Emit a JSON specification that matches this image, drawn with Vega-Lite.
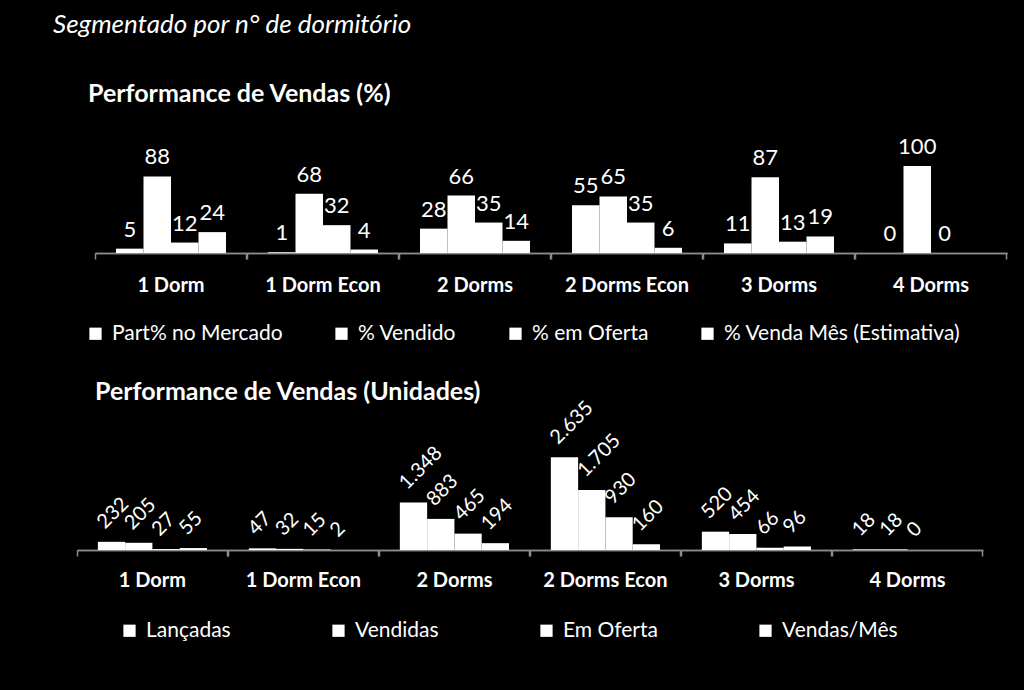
{
  "$schema": "https://vega.github.io/schema/vega-lite/v6.json",
  "background": "black",
  "autosize": {"type": "pad"},
  "padding": {"left": 53, "top": 12, "right": 17, "bottom": 50},
  "title": {"text": "Segmentado por n° de dormitório", "anchor": "start", "dx": -24, "dy": -40, "font": "Lato", "fontStyle": "italic", "fontWeight": "normal", "fontSize": 26, "color": "white", "frame": "group"},
  "bounds": "flush",
  "spacing": 278,
  "resolve": {"scale": {"color": "independent"}, "legend": {"color": "independent"}},
  "config": {
    "view": {"stroke": null},
    "locale": {"number": {"decimal": ",", "thousands": ".", "grouping": [3], "currency": ["R$ ", ""]}},
    "axisX": {"domainColor": "#8c8c8c", "domainWidth": 1.5, "tickColor": "#8c8c8c", "tickWidth": 1.5, "tickSize": 6, "labels": false, "title": null, "grid": false, "orient": "bottom"},
    "header": {"title": null, "labelOrient": "bottom", "labelFont": "Lato", "labelFontWeight": "bold", "labelFontSize": 20, "labelColor": "white"},
    "legend": {"orient": "none", "direction": "horizontal", "title": null, "symbolType": "square", "symbolSize": 150, "symbolStrokeWidth": 0, "labelFont": "Lato", "labelFontSize": 21, "labelColor": "white", "labelOffset": 6, "labelLimit": 400},
    "title": {"color": "white", "anchor": "start"}
  },
  "datasets": {
    "pct": [
      {"cat": "1 Dorm", "serie": "Part% no Mercado", "v": 5},
      {"cat": "1 Dorm", "serie": "% Vendido", "v": 88},
      {"cat": "1 Dorm", "serie": "% em Oferta", "v": 12},
      {"cat": "1 Dorm", "serie": "% Venda Mês (Estimativa)", "v": 24},
      {"cat": "1 Dorm Econ", "serie": "Part% no Mercado", "v": 1},
      {"cat": "1 Dorm Econ", "serie": "% Vendido", "v": 68},
      {"cat": "1 Dorm Econ", "serie": "% em Oferta", "v": 32},
      {"cat": "1 Dorm Econ", "serie": "% Venda Mês (Estimativa)", "v": 4},
      {"cat": "2 Dorms", "serie": "Part% no Mercado", "v": 28},
      {"cat": "2 Dorms", "serie": "% Vendido", "v": 66},
      {"cat": "2 Dorms", "serie": "% em Oferta", "v": 35},
      {"cat": "2 Dorms", "serie": "% Venda Mês (Estimativa)", "v": 14},
      {"cat": "2 Dorms Econ", "serie": "Part% no Mercado", "v": 55},
      {"cat": "2 Dorms Econ", "serie": "% Vendido", "v": 65},
      {"cat": "2 Dorms Econ", "serie": "% em Oferta", "v": 35},
      {"cat": "2 Dorms Econ", "serie": "% Venda Mês (Estimativa)", "v": 6},
      {"cat": "3 Dorms", "serie": "Part% no Mercado", "v": 11},
      {"cat": "3 Dorms", "serie": "% Vendido", "v": 87},
      {"cat": "3 Dorms", "serie": "% em Oferta", "v": 13},
      {"cat": "3 Dorms", "serie": "% Venda Mês (Estimativa)", "v": 19},
      {"cat": "4 Dorms", "serie": "Part% no Mercado", "v": 0},
      {"cat": "4 Dorms", "serie": "% Vendido", "v": 100},
      {"cat": "4 Dorms", "serie": "% em Oferta", "v": 0}
    ],
    "uni": [
      {"cat": "1 Dorm", "serie": "Lançadas", "v": 232},
      {"cat": "1 Dorm", "serie": "Vendidas", "v": 205},
      {"cat": "1 Dorm", "serie": "Em Oferta", "v": 27},
      {"cat": "1 Dorm", "serie": "Vendas/Mês", "v": 55},
      {"cat": "1 Dorm Econ", "serie": "Lançadas", "v": 47},
      {"cat": "1 Dorm Econ", "serie": "Vendidas", "v": 32},
      {"cat": "1 Dorm Econ", "serie": "Em Oferta", "v": 15},
      {"cat": "1 Dorm Econ", "serie": "Vendas/Mês", "v": 2},
      {"cat": "2 Dorms", "serie": "Lançadas", "v": 1348},
      {"cat": "2 Dorms", "serie": "Vendidas", "v": 883},
      {"cat": "2 Dorms", "serie": "Em Oferta", "v": 465},
      {"cat": "2 Dorms", "serie": "Vendas/Mês", "v": 194},
      {"cat": "2 Dorms Econ", "serie": "Lançadas", "v": 2635},
      {"cat": "2 Dorms Econ", "serie": "Vendidas", "v": 1705},
      {"cat": "2 Dorms Econ", "serie": "Em Oferta", "v": 930},
      {"cat": "2 Dorms Econ", "serie": "Vendas/Mês", "v": 160},
      {"cat": "3 Dorms", "serie": "Lançadas", "v": 520},
      {"cat": "3 Dorms", "serie": "Vendidas", "v": 454},
      {"cat": "3 Dorms", "serie": "Em Oferta", "v": 66},
      {"cat": "3 Dorms", "serie": "Vendas/Mês", "v": 96},
      {"cat": "4 Dorms", "serie": "Lançadas", "v": 18},
      {"cat": "4 Dorms", "serie": "Vendidas", "v": 18},
      {"cat": "4 Dorms", "serie": "Em Oferta", "v": 0}
    ]
  },
  "vconcat": [
    {
      "title": {"text": "Performance de Vendas (%)", "anchor": "start", "dx": 11, "dy": -25, "font": "Lato", "fontWeight": "bold", "fontSize": 25, "color": "white", "frame": "group"},
      "spacing": 0,
      "bounds": "flush",
      "hconcat": [
        {
          "width": 18,
          "height": 87,
          "data": {"values": [{"a": 0}]},
          "mark": {"type": "point", "opacity": 0},
          "encoding": {}
        },
        {
          "data": {"name": "pct"},
          "spacing": 0,
          "bounds": "flush",
          "facet": {"column": {"field": "cat", "type": "nominal", "sort": ["1 Dorm", "1 Dorm Econ", "2 Dorms", "2 Dorms Econ", "3 Dorms", "4 Dorms"], "header": {"labelPadding": 16}}},
          "spec": {
            "width": 152,
            "height": 87,
            "layer": [
              {
                "mark": {"type": "bar"},
                "encoding": {
                  "x": {"field": "serie", "type": "nominal", "sort": ["Part% no Mercado", "% Vendido", "% em Oferta", "% Venda Mês (Estimativa)"], "scale": {"paddingInner": 0, "paddingOuter": 0.764}, "axis": {"orient": "bottom", "values": ["Part% no Mercado"], "bandPosition": -0.764}},
                  "y": {"field": "v", "type": "quantitative", "scale": {"domain": [0, 100], "nice": false, "zero": true}, "axis": null},
                  "color": {"field": "serie", "type": "nominal", "sort": ["Part% no Mercado", "% Vendido", "% em Oferta", "% Venda Mês (Estimativa)"], "scale": {"range": ["white", "white", "white", "white"]}, "legend": {"legendX": 8, "legendY": 157, "columnPadding": 48}}
                }
              },
              {
                "mark": {"type": "text", "color": "white", "font": "Lato", "fontSize": 22, "align": "center", "baseline": "alphabetic", "dy": -12},
                "encoding": {
                  "x": {"field": "serie", "type": "nominal", "sort": ["Part% no Mercado", "% Vendido", "% em Oferta", "% Venda Mês (Estimativa)"], "axis": {"orient": "bottom", "values": ["% Venda Mês (Estimativa)"], "bandPosition": 1.764}},
                  "y": {"field": "v", "type": "quantitative", "axis": null},
                  "text": {"field": "v", "type": "quantitative"}
                }
              }
            ],
            "resolve": {"axis": {"x": "independent"}}
          }
        }
      ]
    },
    {
      "title": {"text": "Performance de Vendas (Unidades)", "anchor": "start", "dx": 18, "dy": 11, "font": "Lato", "fontWeight": "bold", "fontSize": 25, "color": "white", "frame": "group"},
      "data": {"name": "uni"},
      "spacing": 0,
      "bounds": "flush",
      "facet": {"column": {"field": "cat", "type": "nominal", "sort": ["1 Dorm", "1 Dorm Econ", "2 Dorms", "2 Dorms Econ", "3 Dorms", "4 Dorms"], "header": {"labelPadding": 14}}},
      "spec": {
        "width": 150.83,
        "height": 106,
        "layer": [
          {
            "mark": {"type": "bar"},
            "encoding": {
              "x": {"field": "serie", "type": "nominal", "sort": ["Lançadas", "Vendidas", "Em Oferta", "Vendas/Mês"], "scale": {"paddingInner": 0, "paddingOuter": 0.764}, "axis": {"orient": "bottom", "values": ["Lançadas"], "bandPosition": -0.764}},
              "y": {"field": "v", "type": "quantitative", "scale": {"domain": [0, 3010], "nice": false, "zero": true}, "axis": null},
              "color": {"field": "serie", "type": "nominal", "sort": ["Lançadas", "Vendidas", "Em Oferta", "Vendas/Mês"], "scale": {"range": ["white", "white", "white", "white"]}, "legend": {"legendX": 42, "legendY": 176, "columnPadding": 97}}
            }
          },
          {
            "mark": {"type": "text", "color": "white", "font": "Lato", "fontSize": 20, "align": "left", "baseline": "alphabetic", "angle": 315, "dx": 4, "dy": -13},
            "encoding": {
              "x": {"field": "serie", "type": "nominal", "sort": ["Lançadas", "Vendidas", "Em Oferta", "Vendas/Mês"], "axis": {"orient": "bottom", "values": ["Vendas/Mês"], "bandPosition": 1.764}},
              "y": {"field": "v", "type": "quantitative", "axis": null},
              "text": {"field": "v", "type": "quantitative", "format": ",d"}
            }
          }
        ],
        "resolve": {"axis": {"x": "independent"}}
      }
    }
  ]
}
